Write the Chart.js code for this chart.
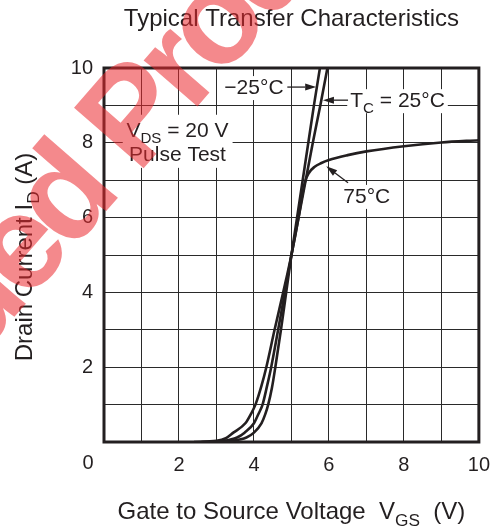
<!DOCTYPE html>
<html>
<head>
<meta charset="utf-8">
<script src="https://cdn.jsdelivr.net/npm/chart.js@4.4.1/dist/chart.umd.min.js"></script>
<style>
  html, body { margin: 0; padding: 0; background: #fff; }
  #wrap { width: 501px; height: 528px; position: relative; }
</style>
</head>
<body>
<div id="wrap"><canvas id="transferChart"></canvas></div>
<script>
var xTicks = [0, 2, 4, 6, 8, 10];
var yTicks = [0, 2, 4, 6, 8, 10];

// V_GS (V) and I_D (A)
var vgsMinus25 = [2.8, 3.4, 3.8, 4.0, 4.2, 4.3, 4.38, 4.48, 4.57, 4.72, 4.86, 5.0, 5.15, 5.3, 5.45, 5.6, 5.76];
var idMinus25  = [0, 0.03, 0.12, 0.25, 0.5, 0.74, 1.0, 1.45, 2.0, 3.0, 4.0, 5.0, 6.0, 7.0, 8.0, 9.0, 10.0];

var vgs25 = [2.6, 3.2, 3.55, 3.75, 4.0, 4.12, 4.23, 4.35, 4.46, 4.645, 4.825, 5.0, 5.19, 5.38, 5.57, 5.77, 5.96];
var id25  = [0, 0.03, 0.12, 0.25, 0.5, 0.75, 1.0, 1.5, 2.0, 3.0, 4.0, 5.0, 6.0, 7.0, 8.0, 9.0, 10.0];

var vgs75 = [2.4, 3.0, 3.25, 3.45, 3.77, 3.92, 4.04, 4.2, 4.33, 4.55, 4.78, 5.0, 5.19, 5.28, 5.36, 5.47, 5.62, 5.8, 6.0, 6.5, 7.0, 8.0, 9.0, 10.0];
var id75  = [0, 0.03, 0.1, 0.25, 0.5, 0.75, 1.0, 1.5, 2.0, 3.0, 4.0, 5.0, 6.0, 6.55, 6.95, 7.2, 7.36, 7.46, 7.54, 7.67, 7.77, 7.91, 8.01, 8.07];

var ink = '#231f20';
var fontFam = '"Liberation Sans", Arial, Helvetica, sans-serif';

function toPoints(xs, ys) {
    var pts = [];
    for (var i = 0; i < xs.length; i++) pts.push({x: xs[i], y: ys[i]});
    return pts;
}

function curve(label, xs, ys) {
    return {
        label: label,
        data: toPoints(xs, ys),
        borderColor: ink,
        borderWidth: 2.6,
        pointRadius: 0,
        fill: false,
        cubicInterpolationMode: 'monotone'
    };
}

function textWidth(ctx, parts, size) {
    var w = 0;
    for (var i = 0; i < parts.length; i++) {
        ctx.font = (parts[i][1] ? size * 0.72 : size) + 'px ' + fontFam;
        w += ctx.measureText(parts[i][0]).width;
    }
    return w;
}

// text with subscripts: parts = [[text, isSub], ...]
function richText(ctx, parts, x, y, size, align) {
    var w = textWidth(ctx, parts, size);
    var cx = align === 'center' ? x - w / 2 : (align === 'right' ? x - w : x);
    ctx.textAlign = 'left';
    ctx.textBaseline = 'alphabetic';
    for (var i = 0; i < parts.length; i++) {
        ctx.font = (parts[i][1] ? size * 0.72 : size) + 'px ' + fontFam;
        ctx.fillText(parts[i][0], cx, parts[i][1] ? y + size * 0.3 : y);
        cx += ctx.measureText(parts[i][0]).width;
    }
    return w;
}

function arrow(ctx, x1, y1, x2, y2) {
    var a = Math.atan2(y2 - y1, x2 - x1);
    var len = 11, hw = 3.5;
    ctx.strokeStyle = ink;
    ctx.fillStyle = ink;
    ctx.lineWidth = 1.3;
    ctx.beginPath();
    ctx.moveTo(x1, y1);
    ctx.lineTo(x2 - Math.cos(a) * len, y2 - Math.sin(a) * len);
    ctx.stroke();
    ctx.beginPath();
    ctx.moveTo(x2, y2);
    ctx.lineTo(x2 - Math.cos(a) * len - Math.sin(a) * hw, y2 - Math.sin(a) * len + Math.cos(a) * hw);
    ctx.lineTo(x2 - Math.cos(a) * len + Math.sin(a) * hw, y2 - Math.sin(a) * len - Math.cos(a) * hw);
    ctx.closePath();
    ctx.fill();
}

var decorPlugin = {
    id: 'decor',
    afterDatasetsDraw: function (chart) {
        var ctx = chart.ctx, xs = chart.scales.x, ys = chart.scales.y, ca = chart.chartArea;
        ctx.save();

        // frame
        ctx.strokeStyle = ink;
        ctx.lineWidth = 3;
        ctx.strokeRect(ca.left, ca.top, ca.right - ca.left, ca.bottom - ca.top);

        ctx.fillStyle = ink;
        // shared origin label
        ctx.font = '20px ' + fontFam;
        ctx.textAlign = 'center';
        ctx.textBaseline = 'middle';
        ctx.fillText('0', ca.left - 16, ca.bottom + 21);

        // title and axis titles
        ctx.font = '24px ' + fontFam;
        ctx.textAlign = 'center';
        ctx.textBaseline = 'alphabetic';
        ctx.fillText('Typical Transfer Characteristics', (ca.left + ca.right) / 2, 26);
        richText(ctx, [['Gate to Source Voltage  V', false], ['GS', true], ['  (V)', false]], (ca.left + ca.right) / 2, 519, 24, 'center');
        ctx.save();
        ctx.translate(32, (ca.top + ca.bottom) / 2 + 2);
        ctx.rotate(-Math.PI / 2);
        richText(ctx, [['Drain Current I', false], ['D', true], [' (A)', false]], 0, 0, 24, 'center');
        ctx.restore();

        // VDS box
        var bx = xs.getPixelForValue(1.96);
        ctx.fillStyle = '#fff';
        ctx.fillRect(xs.getPixelForValue(0.5), ys.getPixelForValue(8.75), xs.getPixelForValue(3.43) - xs.getPixelForValue(0.5), ys.getPixelForValue(7.33) - ys.getPixelForValue(8.75));
        ctx.fillStyle = ink;
        richText(ctx, [['V', false], ['DS', true], [' = 20 V', false]], bx, ys.getPixelForValue(8.34) + 7, 21, 'center');
        richText(ctx, [['Pulse Test', false]], bx, ys.getPixelForValue(7.70) + 7, 21, 'center');

        // labelled arrows
        var labels = [
            {parts: [['\u221225\u00B0C', false]], x: 4.0, y: 9.49, from: [4.89, 9.49], to: [5.66, 9.49]},
            {parts: [['T', false], ['C', true], [' = 25\u00B0C', false]], x: 7.83, y: 9.14, from: [6.51, 9.14], to: [5.84, 9.14]},
            {parts: [['75\u00B0C', false]], x: 7.01, y: 6.58, from: [6.51, 6.93], to: [5.93, 7.37]}
        ];
        labels.forEach(function (l) {
            var px = xs.getPixelForValue(l.x), py = ys.getPixelForValue(l.y);
            var w = textWidth(ctx, l.parts, 21);
            ctx.fillStyle = '#fff';
            ctx.fillRect(px - w / 2 - 3, py - 11, w + 6, 24);
            ctx.fillStyle = ink;
            richText(ctx, l.parts, px, py + 7, 21, 'center');
            arrow(ctx, xs.getPixelForValue(l.from[0]), ys.getPixelForValue(l.from[1]), xs.getPixelForValue(l.to[0]), ys.getPixelForValue(l.to[1]));
        });
        ctx.restore();
    },
    afterDraw: function (chart) {
        // red watermark over the page
        var ctx = chart.ctx, size = 134;
        ctx.save();
        ctx.translate(22, 255);
        ctx.rotate(-49 * Math.PI / 180);
        ctx.font = 'bold ' + size + 'px ' + fontFam;
        ctx.letterSpacing = '-8px';
        var pre = ctx.measureText('Discontinu').width;
        var e = ctx.measureText('e').width;
        ctx.fillStyle = 'rgba(235, 40, 45, 0.55)';
        ctx.textAlign = 'left';
        ctx.textBaseline = 'alphabetic';
        ctx.fillText('Discontinued Product', -pre - e / 2, 0.26 * size);
        ctx.restore();
    }
};

var ctx = document.getElementById('transferChart');
var transferChart = new Chart(ctx, {
    type: 'line',
    data: {
        datasets: [
            curve('\u221225\u00B0C', vgsMinus25, idMinus25),
            curve('25\u00B0C', vgs25, id25),
            curve('75\u00B0C', vgs75, id75)
        ]
    },
    options: {
        responsive: true,
        maintainAspectRatio: false,
        animation: false,
        layout: { padding: { top: 68, right: 19, left: 0, bottom: 0 } },
        plugins: { legend: { display: false }, tooltip: { enabled: false }, title: { display: false } },
        scales: {
            x: {
                type: 'linear', min: 0, max: 10,
                afterFit: function (s) { s.height = 86; },
                border: { display: false },
                grid: { color: '#2a2a2a', lineWidth: 1, drawTicks: false },
                ticks: {
                    stepSize: 1, autoSkip: false, maxRotation: 0, padding: 11,
                    color: ink, font: { size: 20, family: fontFam },
                    callback: function (v) { return (v !== 0 && xTicks.indexOf(v) >= 0) ? String(v) : ''; }
                }
            },
            y: {
                type: 'linear', min: 0, max: 10,
                afterFit: function (s) { s.width = 104; },
                border: { display: false },
                grid: { color: '#2a2a2a', lineWidth: 1, drawTicks: false },
                ticks: {
                    stepSize: 1, autoSkip: false, padding: 11,
                    color: ink, font: { size: 20, family: fontFam },
                    callback: function (v) { return (v !== 0 && yTicks.indexOf(v) >= 0) ? String(v) : ''; }
                }
            }
        }
    },
    plugins: [decorPlugin]
});
</script>
</body>
</html>
